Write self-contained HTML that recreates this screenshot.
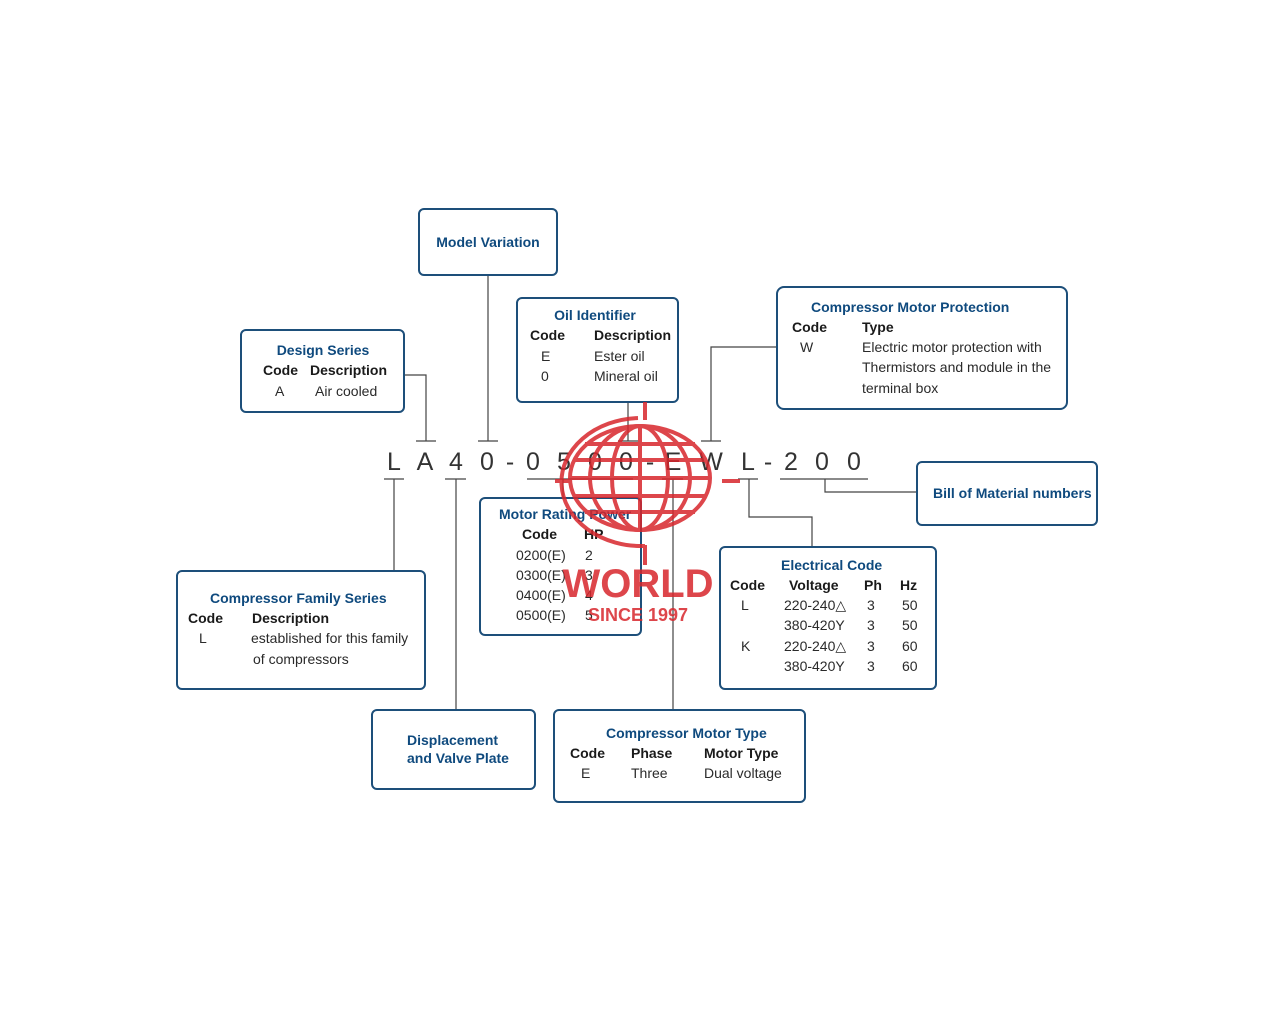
<!DOCTYPE html>
<html><head><meta charset="utf-8"><style>
html,body{margin:0;padding:0;background:#fff;}
svg{display:block}
text{font-family:"Liberation Sans",sans-serif;font-size:14px;fill:#2a2a2a}
.t{fill:#0f4a7e;font-weight:bold}
.b{font-weight:bold;fill:#1a1a1a}
.box{fill:#fff;stroke:#1d4f7a;stroke-width:2}
.ln{stroke:#444;stroke-width:1.2;fill:none}
.code{font-family:"Liberation Sans",sans-serif;font-size:25px;fill:#333}
.wm{stroke:#d8262c;fill:none;stroke-width:4;opacity:.85}
</style></head><body>
<svg width="1280" height="1024" viewBox="0 0 1280 1024">
<g class="ln">
<path d="M404 375H426V441M416 441H436"/>
<path d="M488 275V441M478 441H498"/>
<path d="M628 402V441M618 441H638"/>
<path d="M777 347H711V441M701 441H721"/>
<path d="M384 479H404M394 479V571"/>
<path d="M445 479H466M456 479V710"/>
<path d="M527 479H633M563 479V498"/>
<path d="M662 479H683M673 479V710"/>
<path d="M738 479H758M749 479V517H812V547"/>
<path d="M780 479H868M825 479V492H917"/>
</g>
<g text-anchor="middle">
<text x="394" y="470" class="code">L</text><text x="425" y="470" class="code">A</text><text x="456" y="470" class="code">4</text><text x="487" y="470" class="code">0</text><text x="510" y="470" class="code">-</text><text x="533" y="470" class="code">0</text><text x="564" y="470" class="code">5</text><text x="595" y="470" class="code">0</text><text x="626" y="470" class="code">0</text><text x="650" y="470" class="code">-</text><text x="673" y="470" class="code">E</text><text x="711" y="470" class="code">W</text><text x="748" y="470" class="code">L</text><text x="768" y="470" class="code">-</text><text x="791" y="470" class="code">2</text><text x="822" y="470" class="code">0</text><text x="854" y="470" class="code">0</text>
</g>
<rect class="box" x="419" y="209" width="138" height="66" rx="5"/>
<text class="t" x="488" y="247" text-anchor="middle">Model Variation</text>

<rect class="box" x="241" y="330" width="163" height="82" rx="5"/>
<text class="t" x="323" y="355" text-anchor="middle">Design Series</text>
<text class="b" x="263" y="375">Code</text><text class="b" x="310" y="375">Description</text>
<text x="275" y="396">A</text><text x="315" y="396">Air cooled</text>

<rect class="box" x="517" y="298" width="161" height="104" rx="5"/>
<text class="t" x="595" y="320" text-anchor="middle">Oil Identifier</text>
<text class="b" x="530" y="340">Code</text><text class="b" x="594" y="340">Description</text>
<text x="541" y="361">E</text><text x="594" y="361">Ester oil</text>
<text x="541" y="381">0</text><text x="594" y="381">Mineral oil</text>

<rect class="box" x="777" y="287" width="290" height="122" rx="7"/>
<text class="t" x="811" y="312">Compressor Motor Protection</text>
<text class="b" x="792" y="332">Code</text><text class="b" x="862" y="332">Type</text>
<text x="800" y="352">W</text><text x="862" y="352">Electric motor protection with</text>
<text x="862" y="372">Thermistors and module in the</text>
<text x="862" y="393">terminal box</text>

<rect class="box" x="917" y="462" width="180" height="63" rx="5"/>
<text class="t" x="933" y="498">Bill of Material numbers</text>

<rect class="box" x="480" y="498" width="161" height="137" rx="5"/>
<text class="t" x="499" y="519">Motor Rating Power</text>
<text class="b" x="522" y="539">Code</text><text class="b" x="584" y="539">HP</text>
<text x="516" y="560">0200(E)</text><text x="585" y="560">2</text>
<text x="516" y="580">0300(E)</text><text x="585" y="580">3</text>
<text x="516" y="600">0400(E)</text><text x="585" y="600">4</text>
<text x="516" y="620">0500(E)</text><text x="585" y="620">5</text>

<rect class="box" x="720" y="547" width="216" height="142" rx="5"/>
<text class="t" x="781" y="570">Electrical Code</text>
<text class="b" x="730" y="590">Code</text><text class="b" x="789" y="590">Voltage</text><text class="b" x="864" y="590">Ph</text><text class="b" x="900" y="590">Hz</text>
<text x="741" y="610">L</text><text x="784" y="610">220-240△</text><text x="867" y="610">3</text><text x="902" y="610">50</text>
<text x="784" y="630">380-420Y</text><text x="867" y="630">3</text><text x="902" y="630">50</text>
<text x="741" y="651">K</text><text x="784" y="651">220-240△</text><text x="867" y="651">3</text><text x="902" y="651">60</text>
<text x="784" y="671">380-420Y</text><text x="867" y="671">3</text><text x="902" y="671">60</text>

<rect class="box" x="177" y="571" width="248" height="118" rx="5"/>
<text class="t" x="210" y="603">Compressor Family Series</text>
<text class="b" x="188" y="623">Code</text><text class="b" x="252" y="623">Description</text>
<text x="199" y="643">L</text><text x="251" y="643">established for this family</text>
<text x="253" y="664">of compressors</text>

<rect class="box" x="372" y="710" width="163" height="79" rx="5"/>
<text class="t" x="407" y="745">Displacement</text>
<text class="t" x="407" y="763">and Valve Plate</text>

<rect class="box" x="554" y="710" width="251" height="92" rx="5"/>
<text class="t" x="606" y="738">Compressor Motor Type</text>
<text class="b" x="570" y="758">Code</text><text class="b" x="631" y="758">Phase</text><text class="b" x="704" y="758">Motor Type</text>
<text x="581" y="778">E</text><text x="631" y="778">Three</text><text x="704" y="778">Dual voltage</text>

<g class="wm">
<ellipse cx="640" cy="478" rx="70" ry="52"/>
<ellipse cx="640" cy="478" rx="50" ry="52"/>
<ellipse cx="640" cy="478" rx="28" ry="52"/>
<line x1="640" y1="426" x2="640" y2="530"/>
<line x1="574" y1="460" x2="706" y2="460"/>
<line x1="571" y1="478" x2="709" y2="478"/>
<line x1="574" y1="496" x2="706" y2="496"/>
<line x1="585" y1="444" x2="695" y2="444"/>
<line x1="585" y1="512" x2="695" y2="512"/>
<path d="M638 418A80 64 0 0 0 645 546"/>
<line x1="555" y1="481" x2="570" y2="481"/>
<line x1="722" y1="481" x2="740" y2="481"/>
<line x1="645" y1="402" x2="645" y2="420"/>
<line x1="645" y1="545" x2="645" y2="565"/>
</g>
<text x="638" y="597" text-anchor="middle" style="font-size:40px;font-weight:bold;fill:#d8262c;opacity:.85">WORLD</text>
<text x="638" y="621" text-anchor="middle" style="font-size:18px;font-weight:bold;fill:#d8262c;opacity:.85">SINCE 1997</text>
</svg>
</body></html>
